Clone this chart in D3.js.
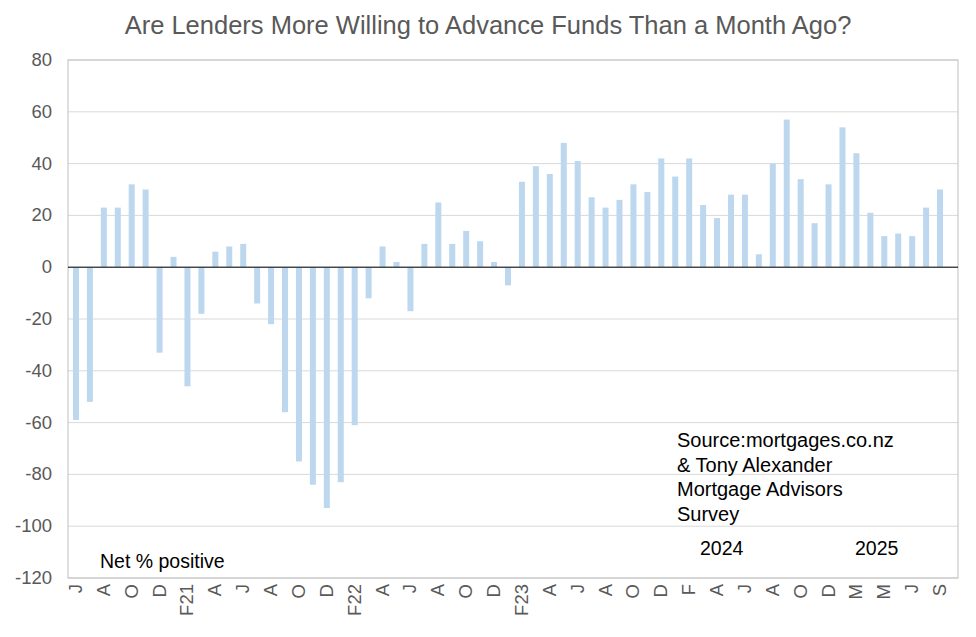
<!DOCTYPE html>
<html><head><meta charset="utf-8">
<script src="https://cdn.jsdelivr.net/npm/d3@7"></script>
<style>body{margin:0;background:#fff}text{font-family:Arial,"Liberation Sans",sans-serif}</style>
</head><body><svg id="c" width="976" height="637"></svg>
<script>
const values=[-59,-52,23,23,32,30,-33,4,-46,-18,6,8,9,-14,-22,-56,-75,-84,-93,-83,-61,-12,8,2,-17,9,25,9,14,10,2,-7,33,39,36,48,41,27,23,26,32,29,42,35,42,24,19,28,28,5,40,57,34,17,32,54,44,21,12,13,12,23,30];
const tickLabels=["J","A","O","D","F21","A","J","A","O","D","F22","A","J","A","O","D","F23","A","J","A","O","D","F","A","J","A","O","D","M","M","J","S"];
const yTicks=[80,60,40,20,0,-20,-40,-60,-80,-100,-120];
const svg=d3.select("#c");
const L=68,R=958,T=60,B=578;
const x=d3.scaleBand().domain(values.map((d,i)=>i)).range([69,947]);
const y=d3.scaleLinear().domain([-120,80]).range([B,T]);
svg.append("g").selectAll("line").data(yTicks).join("line")
 .attr("x1",L).attr("x2",R).attr("y1",d=>y(d)).attr("y2",d=>y(d)).attr("stroke","#d9d9d9");
svg.append("rect").attr("x",L).attr("y",T).attr("width",R-L).attr("height",B-T).attr("fill","none").attr("stroke","#bfbfbf");
svg.append("g").selectAll("rect").data(values).join("rect")
 .attr("x",(d,i)=>x(i)+x.bandwidth()/2-3).attr("width",6)
 .attr("y",d=>y(Math.max(0,d))).attr("height",d=>Math.abs(y(d)-y(0))).attr("fill","#bdd7ee");
svg.append("line").attr("x1",L).attr("x2",R).attr("y1",y(0)).attr("y2",y(0)).attr("stroke","#000");
svg.append("g").selectAll("text").data(yTicks).join("text")
 .attr("x",52).attr("y",d=>y(d)+6).attr("text-anchor","end").attr("font-size",18.5).attr("fill","#595959").text(d=>d);
svg.append("g").selectAll("text").data(tickLabels).join("text")
 .attr("transform",(d,i)=>`translate(${x(i*2)+x.bandwidth()/2+6},${B+6}) rotate(-90)`)
 .attr("text-anchor","end").attr("font-size",18.5).attr("fill","#595959").text(d=>d);
svg.append("text").attr("x",488).attr("y",34).attr("text-anchor","middle").attr("font-size",25.5).attr("fill","#595959").text("Are Lenders More Willing to Advance Funds Than a Month Ago?");
svg.append("text").attr("x",100).attr("y",568).attr("font-size",19.5).text("Net % positive");
["Source:mortgages.co.nz","& Tony Alexander","Mortgage Advisors","Survey"].forEach((t,i)=>
 svg.append("text").attr("x",677).attr("y",447+i*24.5).attr("font-size",20).text(t));
svg.append("text").attr("x",700).attr("y",555).attr("font-size",19.5).text("2024");
svg.append("text").attr("x",855).attr("y",555).attr("font-size",19.5).text("2025");
</script></body></html>
